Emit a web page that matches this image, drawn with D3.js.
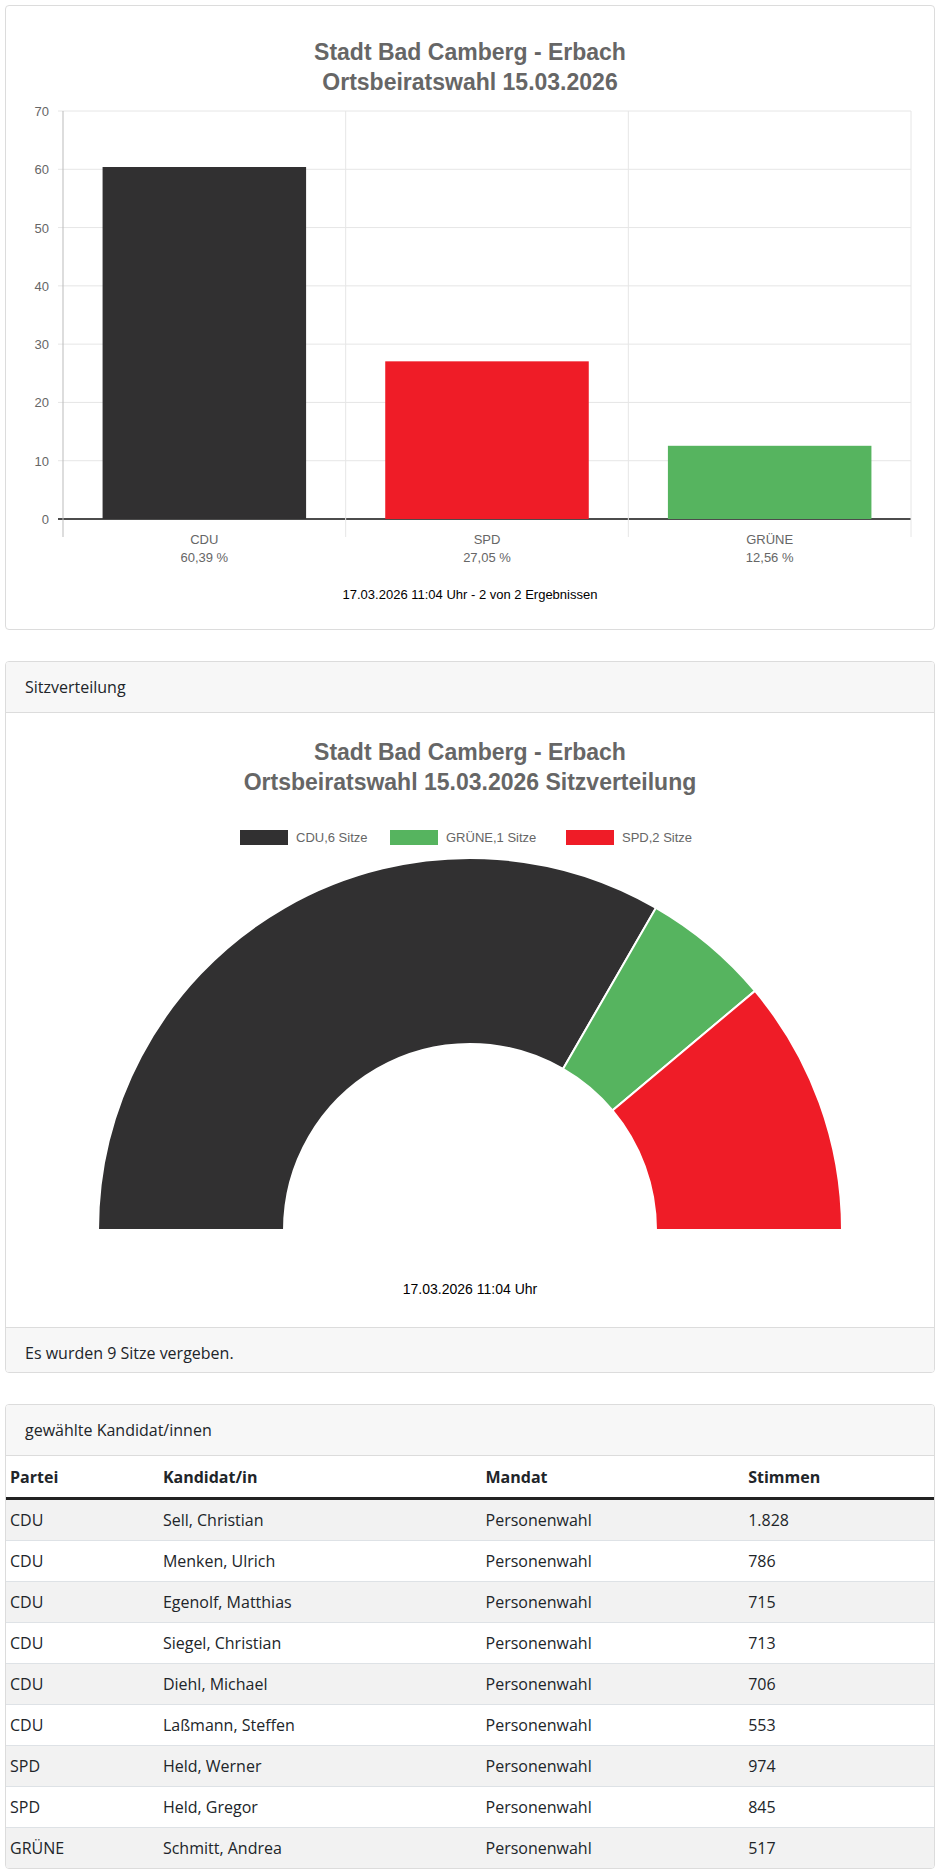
<!DOCTYPE html>
<html><head><meta charset="utf-8">
<script src="https://cdn.jsdelivr.net/npm/d3@7"></script>
<style>
body{margin:0;background:#fff;font-family:"Open Sans",sans-serif;font-size:16px;color:#212529}
.card{position:absolute;left:5px;width:928px;border:1px solid #dcdcdc;border-radius:4px;background:#fff;overflow:hidden}
.hd{background:#f7f7f7;border-bottom:1px solid #dcdcdc;padding:0 19px;display:flex;align-items:center}
.ft{background:#f7f7f7;border-top:1px solid #dcdcdc;padding:0 19px;display:flex;align-items:center}
table{border-collapse:collapse;width:100%}
th{text-align:left;font-weight:700;height:41px;border-bottom:3px solid #222;padding:0 4px}
td{height:40px;border-top:1px solid #dee2e6;padding:0 4px}
tbody tr:nth-child(odd){background:#f2f2f2}
svg text{font-family:"Liberation Sans",Arial,sans-serif}
</style></head><body>
<div class="card" style="top:5px;height:623px"><svg id="bar" width="928" height="623"></svg></div>
<div class="card" style="top:661px;height:710px">
 <div class="hd" style="height:50px">Sitzverteilung</div>
 <svg id="pie" width="928" height="609"></svg>
 <div class="ft" style="height:50px">Es wurden 9 Sitze vergeben.</div>
</div>
<div class="card" style="top:1404px;height:463px">
 <div class="hd" style="height:50px">gewählte Kandidat/innen</div>
 <table id="tbl"></table>
</div>
<script>
const parties = ['CDU', 'SPD', 'GRÜNE'];
const percents = [60.39, 27.05, 12.56];
const colors = {CDU: '#313031', SPD: '#ef1c27', 'GRÜNE': '#56b45f'};
const seatParties = ['CDU', 'GRÜNE', 'SPD'];
const seats = [6, 1, 2];
const yTicks = [0, 10, 20, 30, 40, 50, 60, 70];
const candParty = ['CDU','CDU','CDU','CDU','CDU','CDU','SPD','SPD','GRÜNE'];
const candName = ['Sell, Christian','Menken, Ulrich','Egenolf, Matthias','Siegel, Christian','Diehl, Michael','Laßmann, Steffen','Held, Werner','Held, Gregor','Schmitt, Andrea'];
const candVotes = ['1.828','786','715','713','706','553','974','845','517'];
const fmt = v => v.toFixed(2).replace('.', ',') + ' %';

// bar chart
const svg = d3.select('#bar');
const title = (s, lines, y0) => lines.forEach((t, i) => s.append('text').attr('x', 464).attr('y', y0 + i * 30)
  .attr('text-anchor', 'middle').attr('font-size', 23).attr('font-weight', 'bold').attr('fill', '#666').text(t));
title(svg, ['Stadt Bad Camberg - Erbach', 'Ortsbeiratswahl 15.03.2026'], 54);
const x = d3.scaleBand().domain(parties).range([57, 905]).paddingInner(0).paddingOuter(0);
const y = d3.scaleLinear().domain([0, 70]).range([513, 105]);
const g = svg.append('g');
g.selectAll('.hg').data(yTicks).enter().append('line')
  .attr('x1', 52).attr('x2', 905).attr('y1', d => y(d)).attr('y2', d => y(d))
  .attr('stroke', d => d === 0 ? '#111' : '#e6e6e6').attr('stroke-width', d => d === 0 ? 1.5 : 1);
g.selectAll('.vg').data(parties.concat(['end'])).enter().append('line')
  .attr('x1', (d, i) => 57 + i * x.bandwidth()).attr('x2', (d, i) => 57 + i * x.bandwidth())
  .attr('y1', y(70)).attr('y2', y(0) + 18).attr('stroke', (d, i) => i === 0 ? '#bbb' : '#e6e6e6');
g.selectAll('.yl').data(yTicks).enter().append('text')
  .attr('x', 43).attr('y', d => y(d) + 5).attr('text-anchor', 'end').attr('font-size', 13).attr('fill', '#666').text(d => d);
const bw = x.bandwidth() * 0.72;
g.selectAll('rect').data(parties).enter().append('rect')
  .attr('x', d => x(d) + (x.bandwidth() - bw) / 2).attr('width', bw)
  .attr('y', (d, i) => y(percents[i])).attr('height', (d, i) => y(0) - y(percents[i]))
  .attr('fill', d => colors[d]);
g.selectAll('.cl').data(parties).enter().append('text')
  .attr('x', d => x(d) + x.bandwidth() / 2).attr('y', 538).attr('text-anchor', 'middle')
  .attr('font-size', 13).attr('fill', '#666').text(d => d);
g.selectAll('.pl').data(parties).enter().append('text')
  .attr('x', d => x(d) + x.bandwidth() / 2).attr('y', 556).attr('text-anchor', 'middle')
  .attr('font-size', 13).attr('fill', '#666').text((d, i) => fmt(percents[i]));
svg.append('text').attr('x', 464).attr('y', 593).attr('text-anchor', 'middle').attr('font-size', 13)
  .attr('fill', '#000').text('17.03.2026 11:04 Uhr - 2 von 2 Ergebnissen');

// seat distribution
const ps = d3.select('#pie');
title(ps, ['Stadt Bad Camberg - Erbach', 'Ortsbeiratswahl 15.03.2026 Sitzverteilung'], 47);
const legW = [150, 176, 140];
let lx = 234;
seatParties.forEach((p, i) => {
  ps.append('rect').attr('x', lx).attr('y', 117).attr('width', 48).attr('height', 15).attr('fill', colors[p]);
  ps.append('text').attr('x', lx + 56).attr('y', 129).attr('font-size', 13).attr('fill', '#666').text(p + ',' + seats[i] + ' Sitze');
  lx += legW[i];
});
const pie = d3.pie().sort(null).startAngle(-Math.PI / 2).endAngle(Math.PI / 2);
const arc = d3.arc().innerRadius(186).outerRadius(372);
ps.append('g').attr('transform', 'translate(464,517)').selectAll('path').data(pie(seats)).enter().append('path')
  .attr('d', arc).attr('fill', (d, i) => colors[seatParties[i]]).attr('stroke', '#fff').attr('stroke-width', 2);
ps.append('text').attr('x', 464).attr('y', 581).attr('text-anchor', 'middle').attr('font-size', 14)
  .attr('fill', '#000').text('17.03.2026 11:04 Uhr');

// table
const tbl = d3.select('#tbl');
const cols = [['Partei', 150], ['Kandidat/in', 327], ['Mandat', 263], ['Stimmen', 188]];
tbl.append('thead').append('tr').selectAll('th').data(cols).enter().append('th')
  .style('width', d => d[1] + 'px').text(d => d[0]);
tbl.append('tbody').selectAll('tr').data(candName).enter().append('tr')
  .selectAll('td').data((d, i) => [candParty[i], d, 'Personenwahl', candVotes[i]]).enter().append('td').text(d => d);
</script>
</body></html>
